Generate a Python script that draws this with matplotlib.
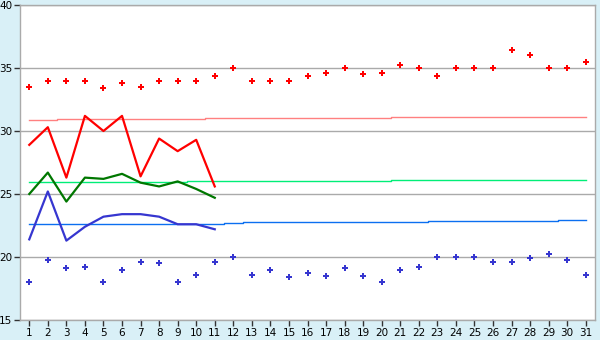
import matplotlib.pyplot as plt
import numpy as np

# dias del mes
dias = list(range(1, 32))
dias_act = list(range(1, 12))

# records de maxima y minima
rec_max = [33.5, 34.0, 34.0, 34.0, 33.4, 33.8, 33.5, 34.0, 34.0, 34.0, 34.4,
           35.0, 34.0, 34.0, 34.0, 34.4, 34.6, 35.0, 34.5, 34.6, 35.2, 35.0,
           34.4, 35.0, 35.0, 35.0, 36.4, 36.0, 35.0, 35.0, 35.5]
rec_min = [18.0, 19.8, 19.1, 19.2, 18.0, 19.0, 19.6, 19.5, 18.0, 18.6, 19.6,
           20.0, 18.6, 19.0, 18.4, 18.7, 18.5, 19.1, 18.5, 18.0, 19.0, 19.2,
           20.0, 20.0, 20.0, 19.6, 19.6, 19.9, 20.2, 19.8, 18.6]

# normales
norm_max = [30.85] * 2 + [30.95] * 8 + [31.03] * 10 + [31.1] * 11
norm_med = [25.93] * 9 + [26.0] * 11 + [26.08] * 11
norm_min = [22.62] * 11 + [22.7] + [22.75] * 10 + [22.83] * 7 + [22.9] * 2

# valores del mes actual
t_max = [28.9, 30.3, 26.3, 31.2, 30.0, 31.2, 26.4, 29.4, 28.4, 29.3, 25.6]
t_med = [25.0, 26.7, 24.4, 26.3, 26.2, 26.6, 25.9, 25.6, 26.0, 25.4, 24.7]
t_min = [21.4, 25.2, 21.3, 22.4, 23.2, 23.4, 23.4, 23.2, 22.6, 22.6, 22.2]

fondo = '#d9f0f7'
fig = plt.figure(figsize=(6, 3.4), dpi=100, facecolor=fondo)
ax = fig.add_axes([20 / 600, 20 / 340, 575 / 600, 315 / 340])
ax.set_facecolor('white')

ax.step(dias, norm_max, where='mid', color='#ff8080', lw=1)
ax.step(dias, norm_med, where='mid', color='#00ee77', lw=1)
ax.step(dias, norm_min, where='mid', color='#0b6ff0', lw=1)

ax.plot(dias_act, t_max, color='#ff0000', lw=1.6)
ax.plot(dias_act, t_med, color='#007700', lw=1.6)
ax.plot(dias_act, t_min, color='#3636d0', lw=1.6)

ax.plot(dias, rec_max, 'P', color='#ff0000', ms=5, mew=0, ls='none')
ax.plot(dias, rec_min, 'P', color='#3636d0', ms=5, mew=0, ls='none')

ax.set_xlim(0.5, 31.5)
ax.set_ylim(15, 40)
ax.set_xticks(dias)
ax.set_yticks([15, 20, 25, 30, 35, 40])
ax.grid(axis='y', color='#aaaaaa', lw=1)
ax.set_axisbelow(True)
for s in ax.spines.values():
    s.set_color('#aaaaaa')
    s.set_linewidth(1)
ax.tick_params(axis='both', colors='#333333', labelcolor='black',
               labelsize=7.5, length=4, width=1, pad=1.5)

plt.savefig('out.png', dpi=100, facecolor=fondo)
